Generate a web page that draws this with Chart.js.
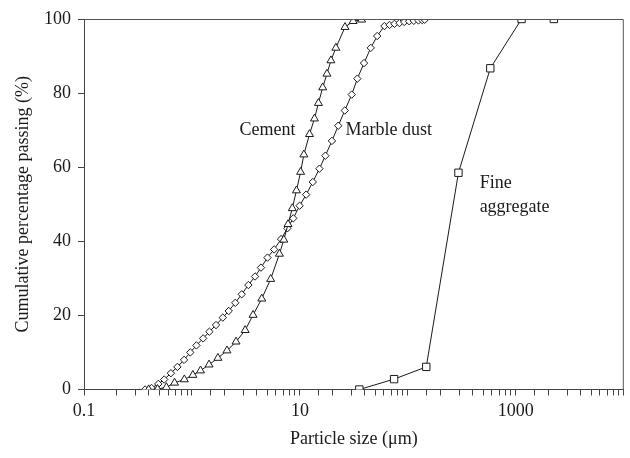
<!DOCTYPE html>
<html>
<head>
<meta charset="utf-8">
<script src="https://cdn.jsdelivr.net/npm/chart.js@4.4.1/dist/chart.umd.min.js"></script>
<style>
html,body{margin:0;padding:0;background:#fff;}
#wrap{width:630px;height:458px;}
</style>
</head>
<body>
<div id="wrap"><canvas id="c" width="630" height="458"></canvas></div>
<script>
// Cement (triangles)
const cementSize = [0.397,0.48,0.58,0.69,0.85,1.02,1.20,1.44,1.74,2.11,2.56,3.11,3.68,4.43,5.36,6.46,7.09,7.76,8.50,9.29,10.15,10.88,12.27,13.64,14.85,16.26,17.80,19.37,21.53,26.15,31.10,37.28];
const cementPass = [0,0.1,0.6,1.8,2.7,3.9,5.1,6.7,8.5,10.5,12.9,16.0,20.1,24.5,29.8,36.6,40.4,44.6,48.9,53.7,58.7,63.4,68.9,73.1,77.3,81.5,85.2,88.8,92.2,97.8,99.4,99.8];
// Marble dust (diamonds)
const marbleSize = [0.368,0.423,0.488,0.553,0.638,0.733,0.845,0.965,1.10,1.27,1.45,1.67,1.93,2.19,2.52,2.89,3.33,3.84,4.36,5.01,5.77,6.69,7.65,8.68,9.94,11.42,13.16,15.16,17.21,19.79,22.65,26.04,30.19,34.05,39.23,45.29,51.95,60.62,67.67,75.17,83.56,92.50,102.8,113.5,125.4,135.8,143.2];
const marblePass = [0,0.4,1.5,2.7,4.4,6.1,8.0,10.0,11.9,13.8,15.6,17.4,19.4,21.2,23.4,25.7,28.2,30.5,32.9,35.6,37.8,40.6,43.5,46.2,49.6,52.6,56.0,59.6,63.1,67.1,71.2,75.3,79.6,83.9,88.1,92.2,95.4,98.1,98.4,98.7,98.9,99.2,99.4,99.5,99.6,99.7,99.8];
// Fine aggregate (squares)
const fineSize = [35.5,74.5,148,294,580,1130,2250];
const finePass = [0,2.8,6.1,58.5,86.7,100,100];
// Axis tick labels
const xTickLabels = [0.1,10,1000];
const yTicks = [0,20,40,60,80,100];
// Curve labels (text, x value, y value)
const curveLabels = [
  {text:'Cement', x:2.75, y:70},
  {text:'Marble dust', x:26.5, y:70},
  {text:'Fine', x:462, y:55.7},
  {text:'aggregate', x:462, y:49.2}
];

const FONT = "'Liberation Serif','Times New Roman',serif";
const INK = '#1a1a1a';

function pts(xs, ys){ return xs.map((x,i)=>({x:x, y:ys[i]})); }

const frame = {
  id:'frame',
  afterDatasetsDraw(chart){
    const {ctx, chartArea:a, scales} = chart;
    ctx.save();
    ctx.strokeStyle = '#555';
    ctx.lineWidth = 1;
    ctx.beginPath();
    ctx.moveTo(a.left, a.top+0.5); ctx.lineTo(a.right-0.5, a.top+0.5); ctx.lineTo(a.right-0.5, a.bottom);
    ctx.stroke();
    ctx.fillStyle = INK;
    ctx.font = "18px " + FONT;
    ctx.textAlign = 'left';
    ctx.textBaseline = 'middle';
    curveLabels.forEach(l=>{
      ctx.fillText(l.text, scales.x.getPixelForValue(l.x), scales.y.getPixelForValue(l.y));
    });
    ctx.restore();
  }
};

const common = {
  showLine:true, borderColor:INK, borderWidth:1, pointBackgroundColor:'#fff',
  pointBorderColor:INK, pointBorderWidth:1, tension:0, fill:false
};

new Chart(document.getElementById('c'), {
  type:'scatter',
  data:{datasets:[
    Object.assign({label:'Cement', data:pts(cementSize,cementPass), pointStyle:'triangle', pointRadius:4.6}, common),
    Object.assign({label:'Marble dust', data:pts(marbleSize,marblePass), pointStyle:'rectRot', pointRadius:3.7}, common),
    Object.assign({label:'Fine aggregate', data:pts(fineSize,finePass), pointStyle:'rect', pointRadius:5.2}, common)
  ]},
  options:{
    responsive:false, animation:false, devicePixelRatio:1,
    layout:{padding:{top:19,right:-3,left:0,bottom:0}},
    plugins:{legend:{display:false}, tooltip:{enabled:false}},
    scales:{
      x:{
        type:'logarithmic', min:0.1, max:10000,
        border:{display:true, color:'#444', width:1},
        grid:{drawOnChartArea:false, drawTicks:true, tickLength:6, color:'#444'},
        ticks:{
          autoSkip:false, maxRotation:0, padding:5, color:INK,
          font:{family:FONT, size:18},
          callback:function(v){
            const lg = Math.log10(v);
            if (Math.abs(lg-Math.round(lg))<1e-6){
              const r = Math.pow(10, Math.round(lg));
              for (const t of xTickLabels){ if (Math.abs(t-r)/t<1e-6) return String(t); }
            }
            return '';
          }
        },
        title:{display:true, text:'Particle size (\u03bcm)', color:INK, font:{family:FONT, size:18}, padding:{bottom:8}},
        afterFit:function(s){ s.height = 68.5; }
      },
      y:{
        min:0, max:100,
        border:{display:true, color:'#444', width:1},
        grid:{drawOnChartArea:false, drawTicks:true, tickLength:6, color:'#444'},
        afterBuildTicks:function(s){ s.ticks = yTicks.map(v=>({value:v})); },
        ticks:{color:INK, padding:7, font:{family:FONT, size:18}},
        title:{display:true, text:'Cumulative percentage passing (%)', color:INK, font:{family:FONT, size:18}, padding:{top:12}},
        afterFit:function(s){ s.width = 84; }
      }
    }
  },
  plugins:[frame]
});
</script>
</body>
</html>
